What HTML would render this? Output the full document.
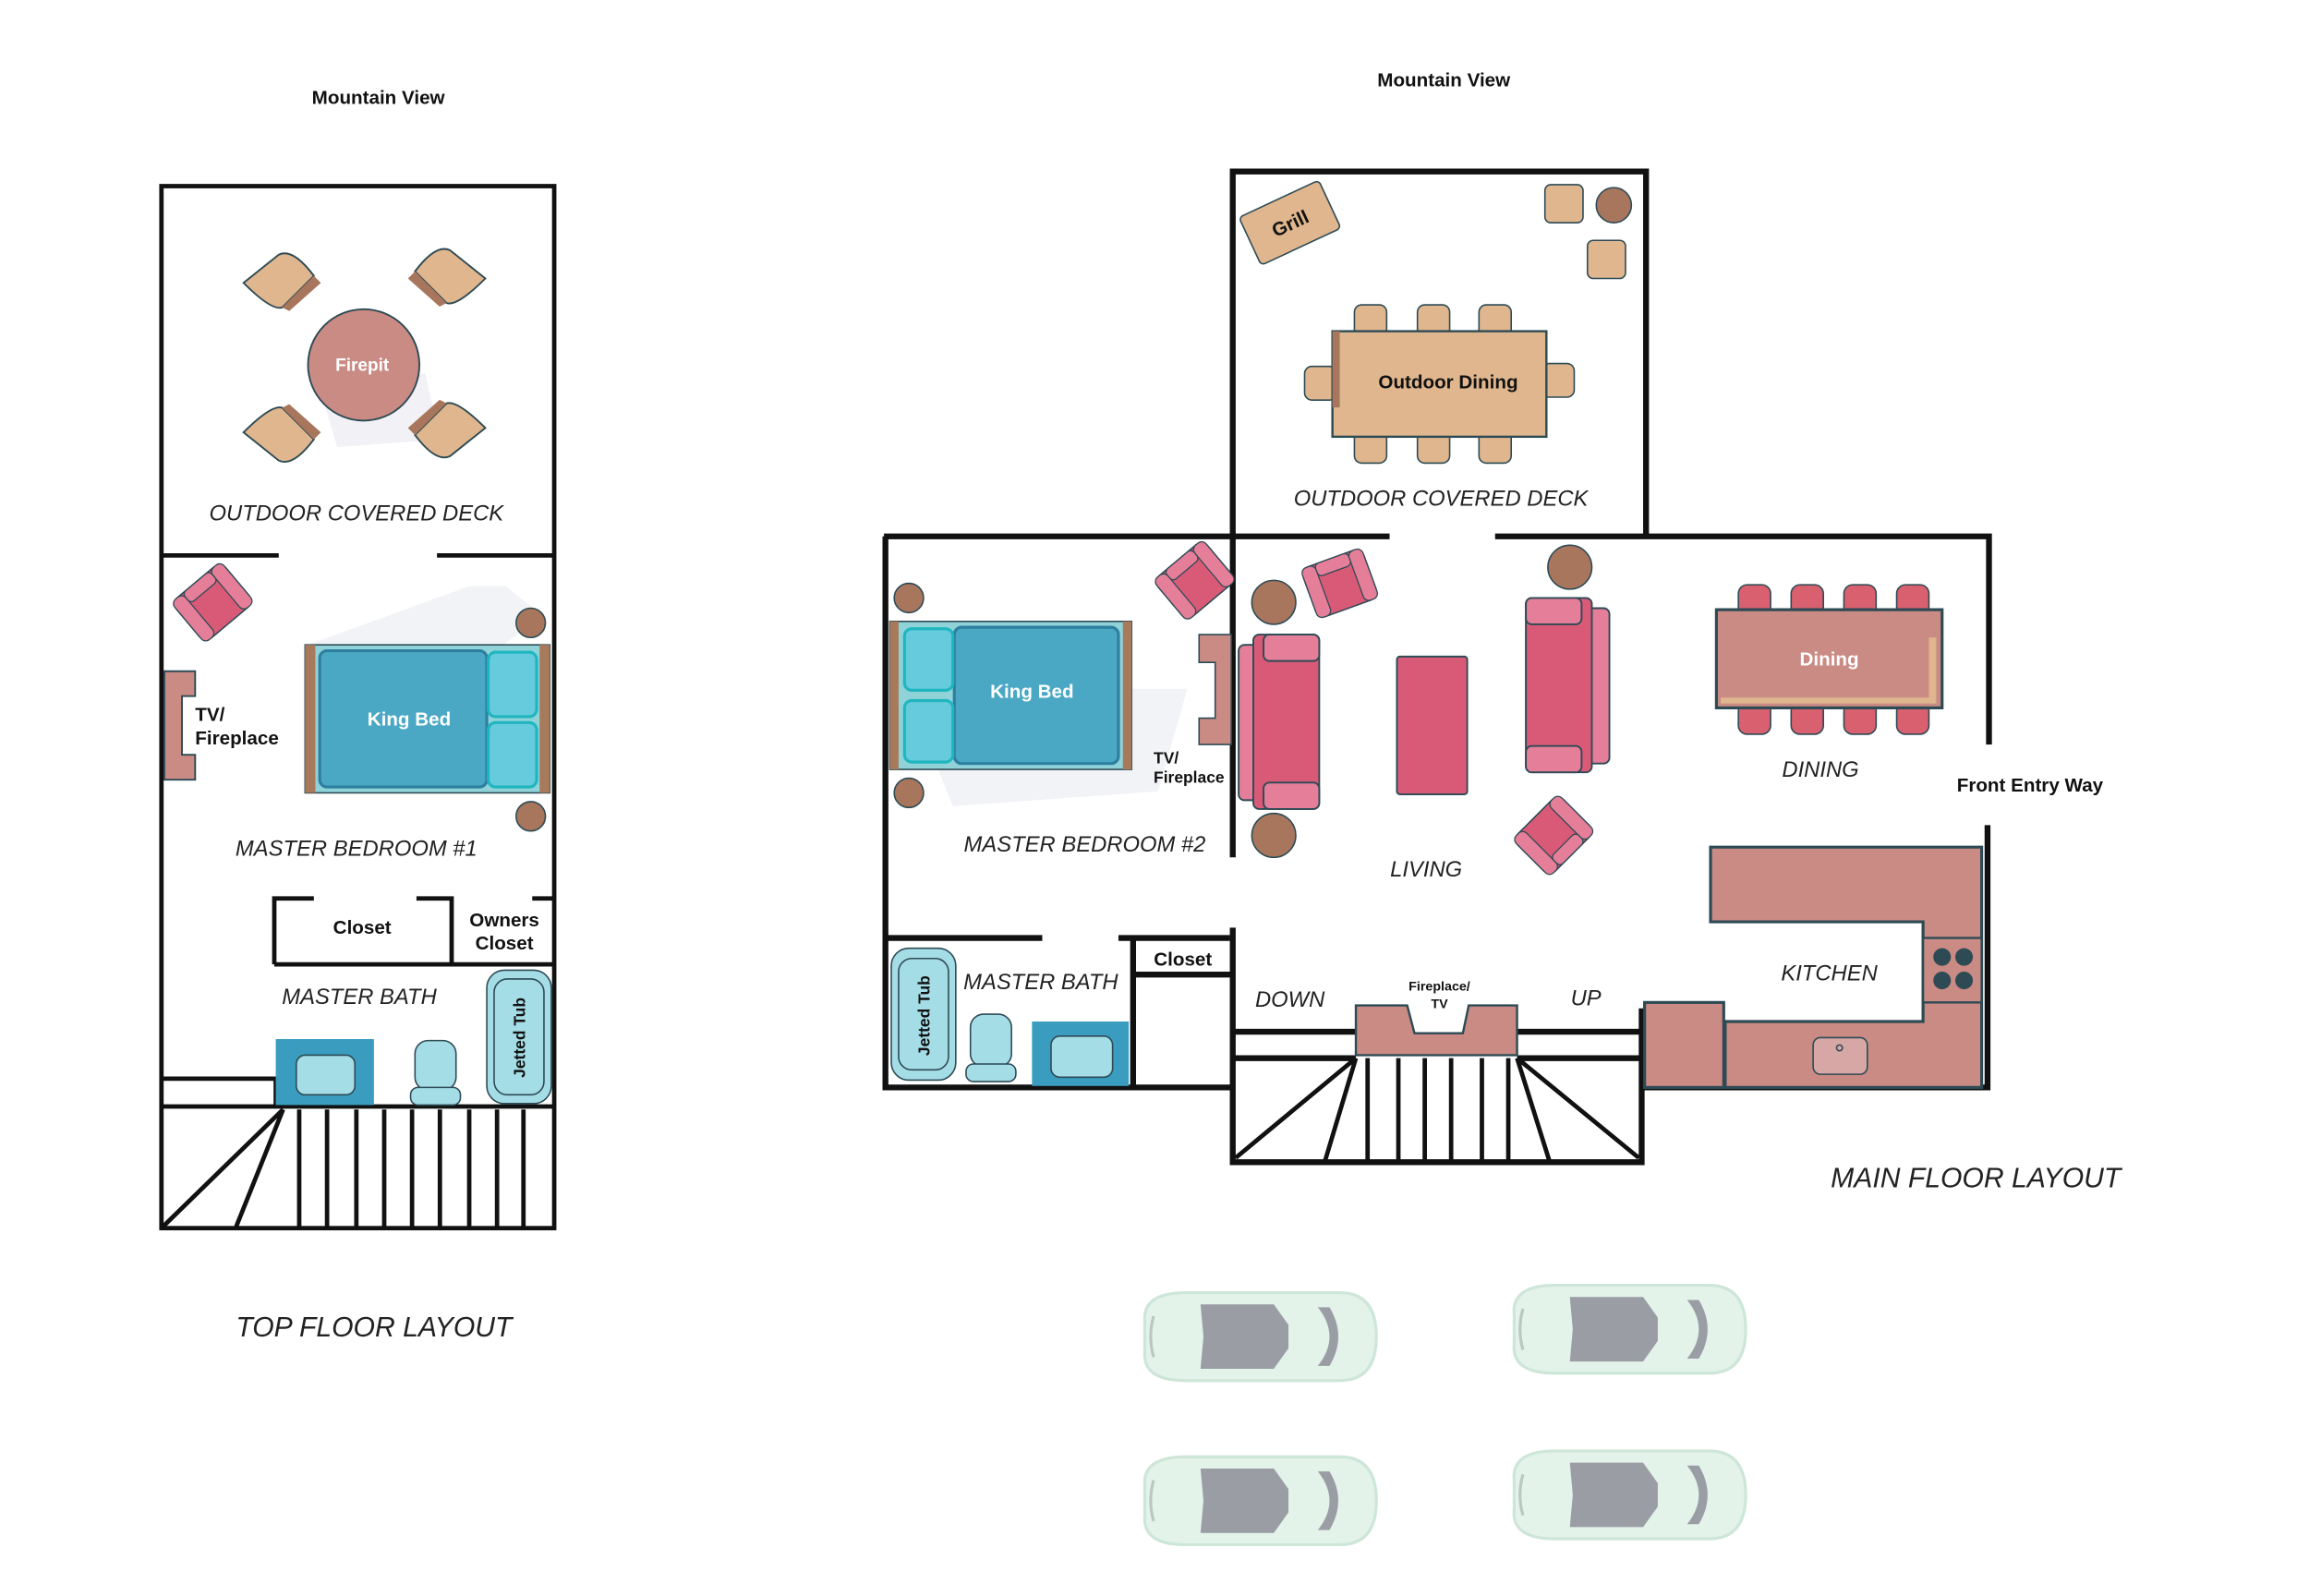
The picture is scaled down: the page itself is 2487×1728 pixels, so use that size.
<!DOCTYPE html>
<html><head><meta charset="utf-8"><style>html,body{margin:0;padding:0;background:#fff}svg{display:block}</style></head>
<body>
<svg width="2487" height="1728" viewBox="0 0 1567 1089" xmlns="http://www.w3.org/2000/svg" font-family="Liberation Sans, sans-serif">
<defs>
<g id="chairT"><path d="M-20,0 L0,-16 Q8,-20 20,-4 L2,14 Q-4,16 -20,0Z" fill="#dfb68d" stroke="#2d4a55" stroke-width="1"/><path d="M20,-4 L2,14 L6,16 L24,0Z" fill="#a8765c"/></g>
<g id="arm"><rect x="-22" y="-18" width="44" height="36" rx="6" fill="#d95a77" stroke="#2d4a55" stroke-width="1"/><rect x="-22" y="-18" width="10" height="36" rx="4" fill="#e57e98" stroke="#2d4a55" stroke-width="0.8"/><rect x="12" y="-18" width="10" height="36" rx="4" fill="#e57e98" stroke="#2d4a55" stroke-width="0.8"/><rect x="-12" y="-18" width="24" height="9" rx="3" fill="#e57e98" stroke="#2d4a55" stroke-width="0.8"/></g>
<g id="car"><path d="M-78,-10 Q-80,-30 -50,-30 L55,-30 Q80,-30 80,0 Q80,30 55,30 L-50,30 Q-80,30 -78,10Z" fill="#e3f3ea" stroke="#cde6d8" stroke-width="2"/><path d="M-40,-22 L10,-22 L20,-8 L20,8 L10,22 L-40,22 L-38,0Z" fill="#9a9ea4"/><path d="M40,-20 Q56,0 40,20 L48,20 Q60,0 48,-20Z" fill="#9a9ea4"/><path d="M-72,-14 Q-76,0 -72,14" fill="none" stroke="#b7cabe" stroke-width="2"/></g>
</defs>
<g fill="#111" font-weight="bold" font-size="13" text-anchor="middle">
<text x="258" y="71">Mountain View</text>
<text x="985" y="59">Mountain View</text>
</g>
<!-- TOP FLOOR -->
<g stroke="#111" stroke-width="3" fill="none">
<rect x="110" y="127" width="268" height="711"/>
<path d="M110 379H190M298 379H378"/>
<path d="M187 658V613H214M284 613H308V658M187 658H378M308 613V658M363 613H378"/>
<path d="M110 736H188V754M110 755H378"/>
<path d="M204 757V838M223 757V838M243 757V838M262 757V838M281 757V838M300 757V838M320 757V838M339 757V838M357 757V838"/>
<path d="M193 757L111 837M193 757L161 837"/>
</g>
<polygon points="215,255 290,255 300,300 230,305" fill="#e8e8f0" opacity="0.6"/>
<circle cx="248" cy="249" r="38" fill="#c98b83" stroke="#2d4a55" stroke-width="1.2"/>
<text x="247" y="253" fill="#fff" font-size="12" font-weight="bold" text-anchor="middle">Firepit</text>
<use href="#chairT" transform="translate(190,193) scale(1.2)"/>
<use href="#chairT" transform="translate(307,190) scale(-1.2,1.2)"/>
<use href="#chairT" transform="translate(190,295) scale(1.2,-1.2)"/>
<use href="#chairT" transform="translate(307,292) scale(-1.2,-1.2)"/>
<g font-style="italic" font-size="15" fill="#222" text-anchor="middle">
<text x="243" y="355">OUTDOOR COVERED DECK</text>
<text x="243" y="584">MASTER BEDROOM #1</text>
<text x="245" y="685">MASTER BATH</text>
<text x="255" y="912" font-size="19">TOP FLOOR LAYOUT</text>
<text x="983" y="345">OUTDOOR COVERED DECK</text>
<text x="740" y="581">MASTER BEDROOM #2</text>
<text x="710" y="675">MASTER BATH</text>
<text x="880" y="687">DOWN</text>
<text x="1082" y="686">UP</text>
<text x="973" y="598">LIVING</text>
<text x="1242" y="530">DINING</text>
<text x="1248" y="669">KITCHEN</text>
<text x="1348" y="810" font-size="19">MAIN FLOOR LAYOUT</text>
</g>
<use href="#arm" transform="translate(145,411) rotate(-40)"/>
<path d="M112 458H133V475H124V515H133V532H112Z" fill="#c98b83" stroke="#2d4a55" stroke-width="1.2"/>
<g font-weight="bold" font-size="13" fill="#111"><text x="133" y="492">TV/</text><text x="133" y="508">Fireplace</text></g>
<polygon points="210,440 320,400 345,400 370,420 210,540" fill="#eceef4" opacity="0.7"/>
<rect x="208" y="440" width="167" height="101" fill="#8fd3d9" stroke="#2d4a55" stroke-width="1"/>
<rect x="208" y="440" width="7" height="101" fill="#a87a5c"/><rect x="368" y="440" width="7" height="101" fill="#a87a5c"/>
<rect x="218" y="444" width="114" height="93" rx="5" fill="#4aa8c4" stroke="#2d7fa0" stroke-width="2"/>
<rect x="333" y="445" width="33" height="44" rx="5" fill="#66cbdc" stroke="#1fb6c0" stroke-width="2"/>
<rect x="333" y="493" width="33" height="44" rx="5" fill="#66cbdc" stroke="#1fb6c0" stroke-width="2"/>
<text x="279" y="495" fill="#fff" font-size="13" font-weight="bold" text-anchor="middle">King Bed</text>
<circle cx="362" cy="425" r="10" fill="#a8765c" stroke="#2d4a55"/>
<circle cx="362" cy="557" r="10" fill="#a8765c" stroke="#2d4a55"/>
<g font-weight="bold" font-size="13" fill="#111" text-anchor="middle"><text x="247" y="637">Closet</text><text x="344" y="632">Owners</text><text x="344" y="648">Closet</text></g>
<rect x="188" y="709" width="67" height="45" fill="#3a9dbf"/>
<rect x="202" y="720" width="40" height="27" rx="6" fill="#a5dde6" stroke="#2d4a55"/>
<rect x="283" y="710" width="28" height="34" rx="9" fill="#a5dde6" stroke="#2d4a55"/>
<rect x="280" y="742" width="34" height="12" rx="5" fill="#a5dde6" stroke="#2d4a55"/>
<rect x="332" y="662" width="44" height="91" rx="12" fill="#a5dde6" stroke="#2d4a55"/>
<rect x="337" y="668" width="34" height="79" rx="9" fill="none" stroke="#2d4a55"/>
<text transform="translate(358,708) rotate(-90)" font-size="11" font-weight="bold" text-anchor="middle" fill="#111">Jetted Tub</text>
<!-- MAIN FLOOR walls -->
<g stroke="#111" stroke-width="4" fill="none">
<path d="M841 366V117H1123V366"/>
<path d="M603 366H948M1020 366H1357V508M1356 563V742H1120M604 366V742H841"/>
<path d="M841 366V585M841 633V793H1120V688"/>
<path d="M604 640H711M763 640H839M773 640V742M773 665H841"/>
<path d="M841 704H925M841 722H925M1035 704H1120M1035 722H1120"/>
</g>
<g stroke="#111" stroke-width="3" fill="none">
<path d="M933 722V793M954 722V793M972 722V793M990 722V793M1011 722V793M1029 722V793"/>
<path d="M925 722L843 790M925 722L904 792M1035 722L1118 790M1035 722L1057 792"/>
</g>
<path d="M925 686H960L965 705H998L1002 686H1035V720H925Z" fill="#c98b83" stroke="#2d4a55" stroke-width="1.5"/>
<g font-weight="bold" font-size="9" fill="#111" text-anchor="middle"><text x="982" y="676">Fireplace/</text><text x="982" y="688">TV</text></g>
<!-- deck furniture -->
<g transform="translate(880,152) rotate(-25)"><rect x="-30" y="-18" width="60" height="36" rx="3" fill="#dfb68d" stroke="#2d4a55"/><text x="0" y="5" font-size="13" font-weight="bold" text-anchor="middle" fill="#111">Grill</text></g>
<rect x="1054" y="126" width="26" height="26" rx="4" fill="#dfb68d" stroke="#2d4a55"/>
<rect x="1083" y="164" width="26" height="26" rx="4" fill="#dfb68d" stroke="#2d4a55"/>
<circle cx="1101" cy="140" r="12" fill="#a8765c" stroke="#2d4a55"/>
<g fill="#dfb68d" stroke="#2d4a55">
<rect x="924" y="208" width="22" height="22" rx="5"/><rect x="967" y="208" width="22" height="22" rx="5"/><rect x="1009" y="208" width="22" height="22" rx="5"/>
<rect x="924" y="294" width="22" height="22" rx="5"/><rect x="967" y="294" width="22" height="22" rx="5"/><rect x="1009" y="294" width="22" height="22" rx="5"/>
<rect x="890" y="250" width="22" height="23" rx="5"/><rect x="1052" y="248" width="22" height="23" rx="5"/>
<rect x="909" y="226" width="146" height="72" stroke-width="1.5"/>
</g>
<rect x="909" y="226" width="5" height="52" fill="#a8765c"/>
<text x="988" y="265" font-size="13" font-weight="bold" text-anchor="middle" fill="#111">Outdoor Dining</text>
<!-- bedroom 2 -->
<use href="#arm" transform="translate(815,396) rotate(-40)"/>
<polygon points="640,525 770,470 810,470 790,540 650,550" fill="#eceef4" opacity="0.7"/>
<rect x="607" y="424" width="165" height="101" fill="#8fd3d9" stroke="#2d4a55"/>
<rect x="607" y="424" width="6" height="101" fill="#a87a5c"/><rect x="766" y="424" width="6" height="101" fill="#a87a5c"/>
<rect x="651" y="428" width="112" height="93" rx="5" fill="#4aa8c4" stroke="#2d7fa0" stroke-width="2"/>
<rect x="617" y="429" width="33" height="42" rx="5" fill="#66cbdc" stroke="#1fb6c0" stroke-width="2"/>
<rect x="617" y="478" width="33" height="42" rx="5" fill="#66cbdc" stroke="#1fb6c0" stroke-width="2"/>
<text x="704" y="476" fill="#fff" font-size="13" font-weight="bold" text-anchor="middle">King Bed</text>
<circle cx="620" cy="408" r="10" fill="#a8765c" stroke="#2d4a55"/>
<circle cx="620" cy="541" r="10" fill="#a8765c" stroke="#2d4a55"/>
<path d="M818 433H840V508H818V490H829V452H818Z" fill="#c98b83" stroke="#2d4a55"/>
<g font-weight="bold" font-size="11" fill="#111"><text x="787" y="521">TV/</text><text x="787" y="534">Fireplace</text></g>
<rect x="608" y="647" width="44" height="90" rx="12" fill="#a5dde6" stroke="#2d4a55"/>
<rect x="613" y="654" width="34" height="76" rx="9" fill="none" stroke="#2d4a55"/>
<text transform="translate(634,693) rotate(-90)" font-size="11" font-weight="bold" text-anchor="middle" fill="#111">Jetted Tub</text>
<rect x="662" y="692" width="28" height="36" rx="9" fill="#a5dde6" stroke="#2d4a55"/>
<rect x="659" y="726" width="34" height="12" rx="5" fill="#a5dde6" stroke="#2d4a55"/>
<rect x="704" y="697" width="66" height="44" fill="#3a9dbf"/>
<rect x="717" y="707" width="42" height="28" rx="6" fill="#a5dde6" stroke="#2d4a55"/>
<text x="807" y="659" font-size="13" font-weight="bold" text-anchor="middle" fill="#111">Closet</text>
<!-- living -->
<use href="#arm" transform="translate(914,398) rotate(-20)"/>
<use href="#arm" transform="translate(1060,570) rotate(135)"/>
<circle cx="869" cy="411" r="15" fill="#a8765c" stroke="#2d4a55"/>
<circle cx="869" cy="570" r="15" fill="#a8765c" stroke="#2d4a55"/>
<circle cx="1071" cy="387" r="15" fill="#a8765c" stroke="#2d4a55"/>
<g stroke="#2d4a55" stroke-width="1.2">
<rect x="845" y="440" width="18" height="106" rx="4" fill="#e57e98"/>
<rect x="855" y="433" width="45" height="119" rx="4" fill="#d95a77"/>
<rect x="862" y="433" width="38" height="18" rx="4" fill="#e57e98"/>
<rect x="862" y="534" width="38" height="18" rx="4" fill="#e57e98"/>
<rect x="953" y="448" width="48" height="94" rx="2" fill="#d95a77"/>
<rect x="1080" y="415" width="18" height="106" rx="4" fill="#e57e98"/>
<rect x="1041" y="408" width="45" height="119" rx="4" fill="#d95a77"/>
<rect x="1041" y="408" width="38" height="18" rx="4" fill="#e57e98"/>
<rect x="1041" y="509" width="38" height="18" rx="4" fill="#e57e98"/>
</g>
<!-- dining -->
<g fill="#d9606e" stroke="#2d4a55">
<rect x="1186" y="399" width="22" height="22" rx="6"/><rect x="1222" y="399" width="22" height="22" rx="6"/><rect x="1258" y="399" width="22" height="22" rx="6"/><rect x="1294" y="399" width="22" height="22" rx="6"/>
<rect x="1186" y="479" width="22" height="22" rx="6"/><rect x="1222" y="479" width="22" height="22" rx="6"/><rect x="1258" y="479" width="22" height="22" rx="6"/><rect x="1294" y="479" width="22" height="22" rx="6"/>
</g>
<rect x="1171" y="416" width="154" height="67" fill="#c98b83" stroke="#2d4a55" stroke-width="2"/>
<rect x="1316" y="435" width="5" height="45" fill="#dfb68d"/><rect x="1174" y="476" width="146" height="4" fill="#dfb68d"/>
<text x="1248" y="454" fill="#fff" font-size="13" font-weight="bold" text-anchor="middle">Dining</text>
<text x="1385" y="540" font-size="13" font-weight="bold" text-anchor="middle" fill="#111">Front Entry Way</text>
<!-- kitchen -->
<path d="M1167 578H1352V742H1177V697H1312V629H1167Z" fill="#c98b83" stroke="#2d4a55" stroke-width="2"/>
<rect x="1122" y="684" width="54" height="58" fill="#c98b83" stroke="#2d4a55" stroke-width="2"/>
<rect x="1312" y="640" width="40" height="44" fill="#c98b83" stroke="#2d4a55" stroke-width="1.5"/>
<g fill="#2d4a55"><circle cx="1325" cy="653" r="6"/><circle cx="1340" cy="653" r="6"/><circle cx="1325" cy="669" r="6"/><circle cx="1340" cy="669" r="6"/></g>
<rect x="1237" y="708" width="37" height="25" rx="5" fill="#d7a7a5" stroke="#2d4a55"/>
<circle cx="1255" cy="715" r="2" fill="none" stroke="#2d4a55"/>
<!-- cars -->
<use href="#car" transform="translate(859,912)"/>
<use href="#car" transform="translate(1111,907)"/>
<use href="#car" transform="translate(859,1024)"/>
<use href="#car" transform="translate(1111,1020)"/>
</svg>
</body></html>
